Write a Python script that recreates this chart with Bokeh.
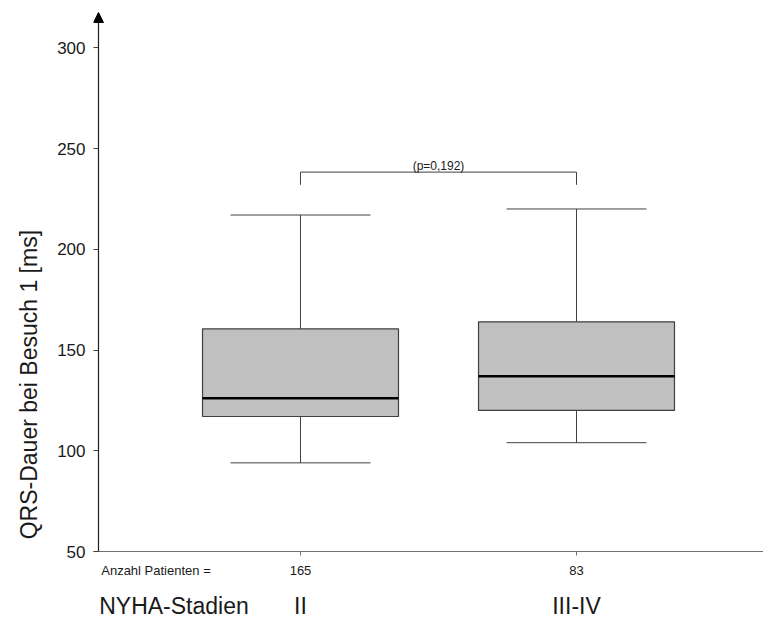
import math
from bokeh.plotting import figure
from bokeh.models import Range1d, FixedTicker, LinearAxis, Arrow, NormalHead, ColumnDataSource, Label
from bokeh.transform import dodge
from bokeh.embed import file_html
from bokeh.resources import INLINE

# ---- data ----
groups = ["II", "III-IV"]
patient_counts = ["165", "83"]
whisker_low = [94, 104]
q1 = [117, 120]
median = [126, 137]
q3 = [160.5, 164]
whisker_high = [217, 220]
y_ticks = [50, 100, 150, 200, 250, 300]
y_title = "QRS-Dauer bei Besuch 1 [ms]"
count_title = "Anzahl Patienten ="
group_title = "NYHA-Stadien"
p_text = "(p=0,192)"
bracket_top = 238.3
bracket_drop = 232

FONT = "Liberation Sans"
TXT = "#1a1a1a"
xs = [i + 1 for i in range(len(groups))]

# layout helpers (positions, not data)
X0, X1 = 0.25, 2.6775          # frame spans pixel 93 .. 763
Y0, Y1 = 50, 319.5             # frame spans pixel 551 .. 8
AXIS_X = 0.2681                # drawn y-axis line at pixel 98
COUNT_TITLE_X = 0.4764
GROUP_TITLE_X = 0.5417
Y_TITLE_Y = 127

p = figure(width=763, height=622, output_backend="svg", toolbar_location=None,
           x_range=Range1d(X0, X1), y_range=Range1d(Y0, Y1),
           min_border_left=93, min_border_right=0, min_border_top=8, min_border_bottom=71)
p.outline_line_color = None
p.grid.visible = False
p.background_fill_color = "white"
p.border_fill_color = "white"

# ---- y axis (ticks point into the frame up to the drawn axis line) ----
ya = p.yaxis[0]
ya.ticker = FixedTicker(ticks=y_ticks)
ya.axis_line_color = None
ya.major_tick_line_color = "#404040"
ya.major_tick_out = 0
ya.major_tick_in = 5
ya.minor_tick_line_color = None
ya.major_label_text_font = FONT
ya.major_label_text_font_size = "17px"
ya.major_label_text_color = TXT
ya.major_label_standoff = 8

# y title as outer left axis
yt = LinearAxis(ticker=FixedTicker(ticks=[Y_TITLE_Y]),
                major_label_overrides={Y_TITLE_Y: y_title},
                major_label_orientation=math.pi / 2,
                axis_line_color=None, major_tick_line_color=None, minor_tick_line_color=None,
                major_tick_out=0, major_tick_in=0, major_label_standoff=25,
                major_label_text_font=FONT, major_label_text_font_size="23px",
                major_label_text_line_height=1.0,
                major_label_text_color=TXT)
p.add_layout(yt, "left")

# ---- x axis: line + ticks only ----
xa = p.xaxis[0]
xa.ticker = FixedTicker(ticks=xs)
xa.major_label_overrides = {x: "" for x in xs}
xa.major_label_text_font_size = "0px"
xa.major_label_standoff = 0
xa.axis_line_color = "#707070"
xa.major_tick_line_color = "#707070"
xa.major_tick_out = 4
xa.major_tick_in = 0
xa.minor_tick_line_color = None

# row 1: patient counts
row1 = LinearAxis(ticker=FixedTicker(ticks=[COUNT_TITLE_X] + xs),
                  major_label_overrides={COUNT_TITLE_X: count_title, **{x: c for x, c in zip(xs, patient_counts)}},
                  axis_line_color=None, major_tick_line_color=None, minor_tick_line_color=None,
                  major_tick_out=0, major_tick_in=0, major_label_standoff=7,
                  major_label_text_font=FONT, major_label_text_font_size="13px",
                  major_label_text_line_height=1.0,
                  major_label_text_color=TXT)
p.add_layout(row1, "below")

# row 2: group names
row2 = LinearAxis(ticker=FixedTicker(ticks=[GROUP_TITLE_X] + xs),
                  major_label_overrides={GROUP_TITLE_X: group_title, **{x: g for x, g in zip(xs, groups)}},
                  axis_line_color=None, major_tick_line_color=None, minor_tick_line_color=None,
                  major_tick_out=0, major_tick_in=0, major_label_standoff=12,
                  major_label_text_font=FONT, major_label_text_font_size="23px",
                  major_label_text_line_height=1.0,
                  major_label_text_color=TXT)
p.add_layout(row2, "below")

# ---- y axis line with arrow head ----
p.add_layout(Arrow(x_start=AXIS_X, y_start=Y0, x_end=AXIS_X, y_end=317.5,
                   line_color="#202020", line_width=1.2,
                   end=NormalHead(size=10, fill_color="black", line_color="black")))

# ---- box plots ----
src = ColumnDataSource(dict(x=xs, lo=whisker_low, q1=q1, med=median, q3=q3, hi=whisker_high))
box_w = 0.71
cap_w = 0.507
line_c = "#404040"

p.segment(x0="x", y0="q3", x1="x", y1="hi", source=src, line_color=line_c, line_width=1)
p.segment(x0="x", y0="lo", x1="x", y1="q1", source=src, line_color=line_c, line_width=1)
p.segment(x0=dodge("x", -cap_w / 2), y0="hi", x1=dodge("x", cap_w / 2), y1="hi",
          source=src, line_color=line_c, line_width=1)
p.segment(x0=dodge("x", -cap_w / 2), y0="lo", x1=dodge("x", cap_w / 2), y1="lo",
          source=src, line_color=line_c, line_width=1)
p.vbar(x="x", width=box_w, bottom="q1", top="q3", source=src,
       fill_color="#c0c0c0", line_color=line_c, line_width=1.2)
p.segment(x0=dodge("x", -box_w / 2), y0="med", x1=dodge("x", box_w / 2), y1="med",
          source=src, line_color="black", line_width=2.5)

# ---- significance bracket ----
p.line(x=[xs[0], xs[0], xs[1], xs[1]], y=[bracket_drop, bracket_top, bracket_top, bracket_drop],
       line_color=line_c, line_width=1)
p.add_layout(Label(x=(xs[0] + xs[1]) / 2, y=241.5, text=p_text, text_font=FONT,
                   text_font_size="12px", text_align="center", text_baseline="alphabetic",
                   text_color=TXT))

open("out.html", "w").write(file_html(p, INLINE))
